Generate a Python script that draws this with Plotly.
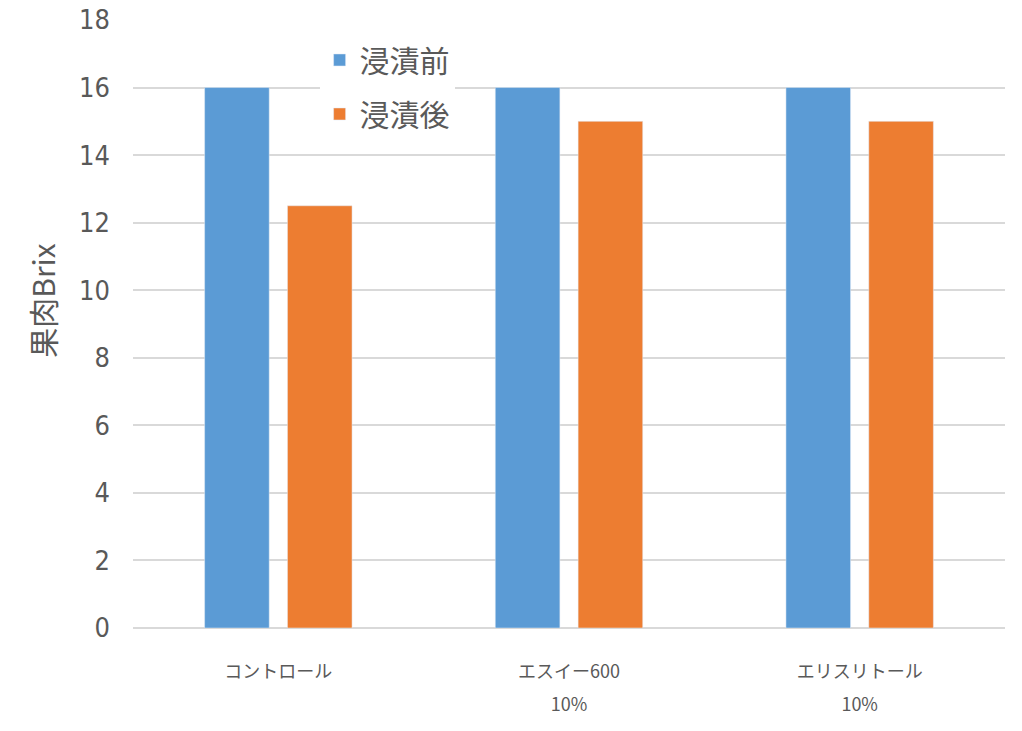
import plotly.graph_objects as go

categories = ["コントロール", "エスイー600<br>10%", "エリスリトール<br>10%"]
before = [16, 16, 16]
after = [12.5, 15, 15]
series_names = ["浸漬前", "浸漬後"]
y_ticks = [0, 2, 4, 6, 8, 10, 12, 14, 16, 18]
y_title = "果肉Brix"

cjk = "Noto Sans CJK JP"
narrow = "Liberation Sans Narrow, DejaVu Sans Condensed, Noto Sans CJK JP"
text_color = "#595959"

# tick labels: small glyphs with wide line spacing
tick_text = ["<br>".join(f"<span style='font-size:18px'>{p}</span>" for p in c.split("<br>"))
             for c in categories]

fig = go.Figure()
fig.add_trace(go.Bar(x=categories, y=before, name=series_names[0],
                     marker_color="#5B9BD5", legendgroup="a"))
fig.add_trace(go.Bar(x=categories, y=after, name=series_names[1],
                     marker_color="#ED7D31", legendgroup="b"))

fig.add_annotation(
    text=y_title, xref="paper", yref="paper",
    x=-0.1038, y=0.539, xanchor="center", yanchor="middle",
    textangle=-90, showarrow=False,
    font=dict(size=30, family=cjk, color=text_color),
)

fig.update_layout(
    width=1022, height=731,
    margin=dict(l=133, r=17, t=20, b=103),
    paper_bgcolor="white", plot_bgcolor="white",
    barmode="group", bargap=0.43, bargroupgap=0.22,
    font=dict(family=cjk, color=text_color),
    legend=dict(
        x=0.214, y=0.977, xanchor="left", yanchor="top",
        bgcolor="white", font=dict(size=30, family=cjk, color=text_color),
        itemwidth=30, traceorder="grouped", tracegroupgap=12,
    ),
    xaxis=dict(
        showgrid=False, showline=False, ticks="", automargin=False,
        tickvals=categories, ticktext=tick_text,
        tickfont=dict(size=25, family=cjk, color=text_color),
        ticklabelstandoff=24,
    ),
    yaxis=dict(
        range=[0, 18.0001], tickvals=y_ticks, automargin=False,
        showgrid=True, gridcolor="#D9D9D9", gridwidth=2,
        zeroline=True, zerolinecolor="#D9D9D9", zerolinewidth=2,
        ticks="", ticklabelstandoff=22, ticklabeloverflow="allow",
        tickfont=dict(size=27, family=narrow, color=text_color),
    ),
)

fig.write_html("out.html", config={"displayModeBar": False},
               post_script="document.body.style.margin='0';")
